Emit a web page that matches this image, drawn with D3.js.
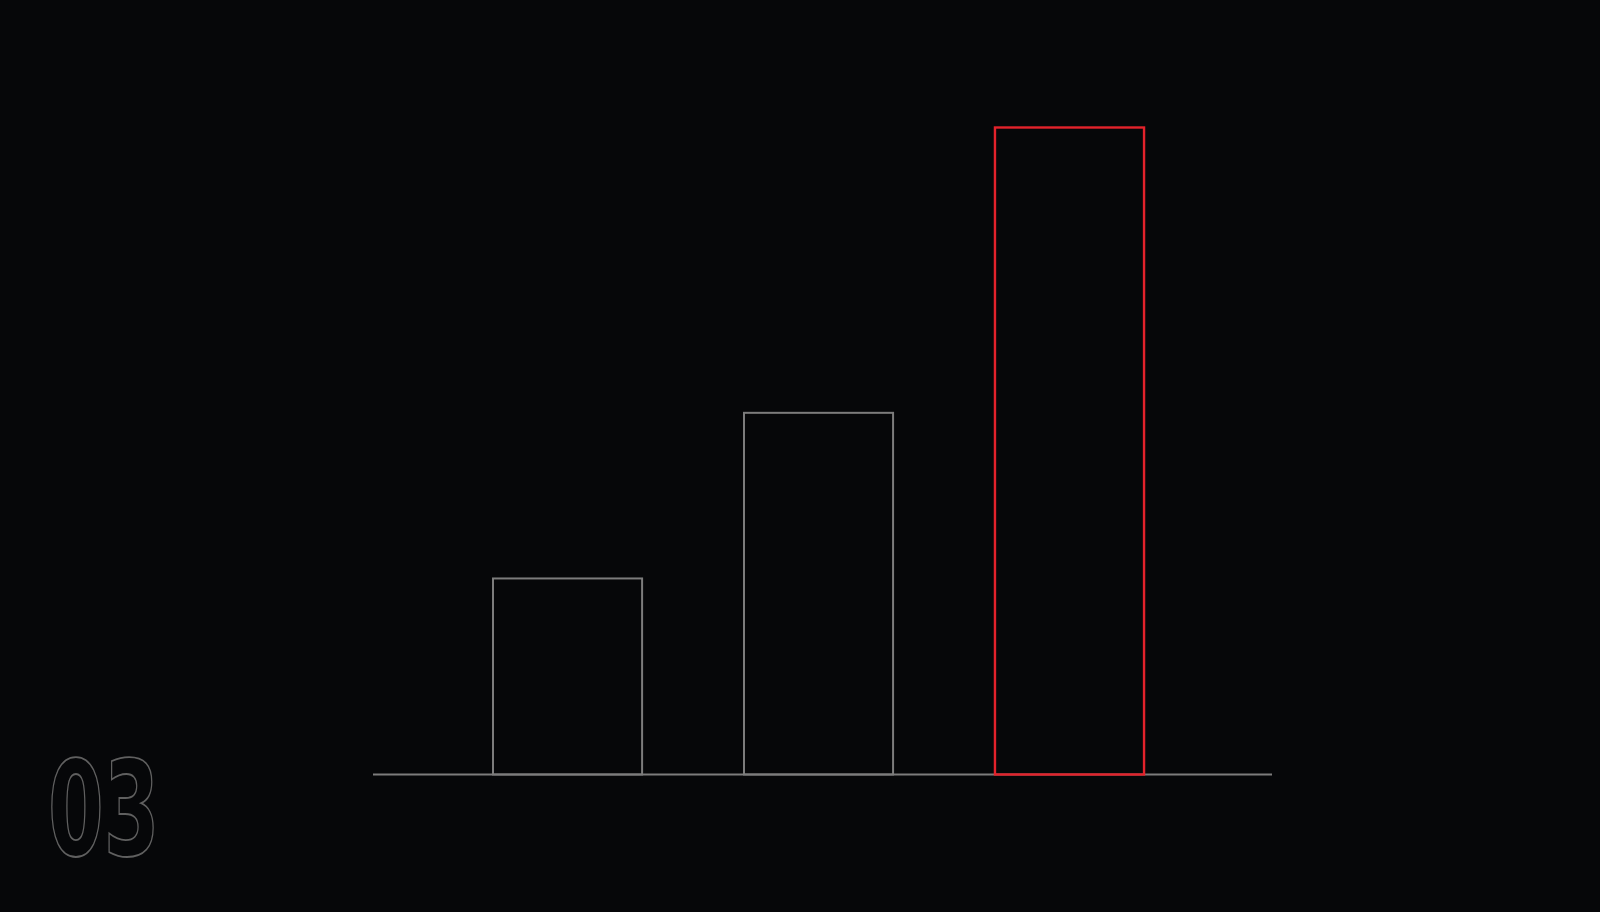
<!DOCTYPE html>
<html>
<head>
<meta charset="utf-8">
<script src="https://cdn.jsdelivr.net/npm/d3@7"></script>
<style>
html,body{margin:0;padding:0;background:#060709;overflow:hidden;}
svg{display:block;}
</style>
</head>
<body>
<svg id="chart" width="1600" height="912"></svg>
<script>
const categories = ["A", "B", "C"];
const values = [30.3, 55.9, 100];
const highlight = ["C"];
const slideNumber = "03";

const W = 1600, H = 912;
const svg = d3.select("#chart");
svg.append("rect").attr("width", W).attr("height", H).attr("fill", "#060709");

const x = d3.scaleBand().domain(categories).range([373, 1272])
  .paddingInner(0.406).paddingOuter(0.494).align(0.484);
const y = d3.scaleLinear().domain([0, 100]).range([774.5, 127.5]);

// baseline
svg.append("line")
  .attr("x1", x.range()[0]).attr("x2", x.range()[1])
  .attr("y1", y(0)).attr("y2", y(0))
  .attr("stroke", "#7c7c7c").attr("stroke-width", 2);

svg.selectAll("rect.bar")
  .data(categories.map((c, i) => ({c, v: values[i]})))
  .join("rect")
  .attr("class", "bar")
  .attr("x", d => x(d.c))
  .attr("y", d => y(d.v))
  .attr("width", x.bandwidth())
  .attr("height", d => y(0) - y(d.v))
  .attr("fill", "none")
  .attr("stroke", d => highlight.includes(d.c) ? "#e3222b" : "#7c7c7c")
  .attr("stroke-width", d => highlight.includes(d.c) ? 2.4 : 2);

// slide number, outlined condensed digits
svg.append("text")
  .attr("transform", "translate(48,855) scale(0.68,1)")
  .attr("font-family", "'DejaVu Sans Condensed', 'DejaVu Sans', sans-serif")
  .attr("font-weight", "bold")
  .attr("font-stretch", "condensed")
  .attr("font-size", 131)
  .attr("fill", "none")
  .attr("stroke", "#606060")
  .attr("stroke-width", 1.8)
  .text(slideNumber);
</script>
</body>
</html>
